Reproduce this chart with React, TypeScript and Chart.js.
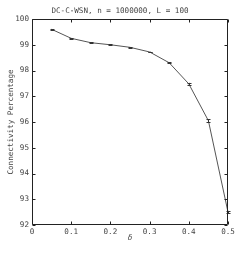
import React, { useEffect, useRef } from "react";
import { Chart, registerables } from "chart.js";

Chart.register(...registerables);

const deltas = [0.05, 0.1, 0.15, 0.2, 0.25, 0.3, 0.35, 0.4, 0.45, 0.5];
const connectivity = [99.6, 99.25, 99.08, 99.0, 98.9, 98.72, 98.3, 97.48, 96.05, 92.5];
const errors = [0.01, 0.01, 0.01, 0.01, 0.01, 0.01, 0.02, 0.04, 0.05, 0.05];
const xTicks = [0, 0.1, 0.2, 0.3, 0.4, 0.5];
const yTicks = [92, 93, 94, 95, 96, 97, 98, 99, 100];
const titleText = "DC-C-WSN, n = 1000000, L = 100";
const xLabel = "δ";
const yLabel = "Connectivity Percentage";

const FONT = "'DejaVu Sans Mono', monospace";
const TEXT = "#444";
const AXIS = "#222";

const framePlugin = {
  id: "frame",
  afterDraw(chart: any) {
    const { ctx, chartArea: a, scales } = chart;
    const xs = scales.x;
    const ys = scales.y;
    ctx.save();
    ctx.lineWidth = 1;
    // error bars
    ctx.strokeStyle = "#333";
    deltas.forEach((d, i) => {
      const px = Math.round(xs.getPixelForValue(d)) + 0.5;
      const y1 = ys.getPixelForValue(connectivity[i] - errors[i]);
      const y2 = ys.getPixelForValue(connectivity[i] + errors[i]);
      ctx.beginPath();
      ctx.moveTo(px, y1);
      ctx.lineTo(px, y2);
      ctx.moveTo(px - 2, Math.round(y1) + 0.5);
      ctx.lineTo(px + 2, Math.round(y1) + 0.5);
      ctx.moveTo(px - 2, Math.round(y2) + 0.5);
      ctx.lineTo(px + 2, Math.round(y2) + 0.5);
      ctx.stroke();
    });
    // box
    ctx.strokeStyle = AXIS;
    const L = Math.round(a.left) + 0.5;
    const R = Math.round(a.right) - 0.5;
    const T = Math.round(a.top) + 0.5;
    const B = Math.round(a.bottom) - 0.5;
    ctx.beginPath();
    ctx.moveTo(L, T);
    ctx.lineTo(R, T);
    ctx.lineTo(R, B);
    ctx.lineTo(L, B);
    ctx.closePath();
    xTicks.forEach((v) => {
      const px = Math.round(xs.getPixelForValue(v)) + 0.5;
      ctx.moveTo(px, B);
      ctx.lineTo(px, B - 3);
      ctx.moveTo(px, T);
      ctx.lineTo(px, T + 3);
    });
    yTicks.forEach((v) => {
      const py = Math.round(ys.getPixelForValue(v)) + 0.5;
      ctx.moveTo(L, py);
      ctx.lineTo(L + 3, py);
      ctx.moveTo(R, py);
      ctx.lineTo(R - 3, py);
    });
    ctx.stroke();

    // texts
    ctx.fillStyle = TEXT;
    ctx.textAlign = "center";
    ctx.textBaseline = "middle";
    ctx.font = `7.6px ${FONT}`;
    ctx.fillText(titleText, 120, 11);
    ctx.font = `italic 7.6px ${FONT}`;
    ctx.fillText(xLabel, (a.left + a.right) / 2, 238.5);
    ctx.font = `7.6px ${FONT}`;
    ctx.translate(11.5, (a.top + a.bottom) / 2);
    ctx.rotate(-Math.PI / 2);
    ctx.fillText(yLabel, 0, 0);
    ctx.restore();
  },
};

export default function App() {
  const ref = useRef<HTMLCanvasElement | null>(null);
  useEffect(() => {
    if (!ref.current) return;
    const chart = new Chart(ref.current, {
      type: "line",
      data: {
        datasets: [
          {
            data: deltas.map((d, i) => ({ x: d, y: connectivity[i] })),
            borderColor: "#555",
            borderWidth: 1,
            pointRadius: 0,
            tension: 0,
            fill: false,
          },
        ],
      },
      options: {
        animation: false,
        responsive: false,
        devicePixelRatio: 1,
        layout: { padding: { left: 0, right: 23, top: 19, bottom: 0 } },
        plugins: { legend: { display: false }, tooltip: { enabled: false }, title: { display: false } },
        scales: {
          x: {
            type: "linear",
            min: 0,
            max: 0.5,
            afterBuildTicks: (s: any) => {
              s.ticks = xTicks.map((v) => ({ value: v }));
            },
            afterFit: (s: any) => {
              s.height = 29;
            },
            grid: { display: false, drawTicks: false, tickLength: 0 },
            border: { display: false },
            ticks: {
              color: TEXT,
              font: { family: FONT, size: 7.6 },
              padding: 2,
              maxRotation: 0,
              autoSkip: false,
              callback: (v: any) => String(Math.round(Number(v) * 10) / 10),
            },
          },
          y: {
            type: "linear",
            min: 92,
            max: 100,
            afterBuildTicks: (s: any) => {
              s.ticks = yTicks.map((v) => ({ value: v }));
            },
            afterFit: (s: any) => {
              s.width = 32;
            },
            grid: { display: false, drawTicks: false, tickLength: 0 },
            border: { display: false },
            ticks: {
              color: TEXT,
              font: { family: FONT, size: 7.6 },
              padding: 3,
              autoSkip: false,
              callback: (v: any) => String(v),
            },
          },
        },
      },
      plugins: [framePlugin],
    });
    return () => chart.destroy();
  }, []);
  return (
    <div style={{ position: "absolute", left: 0, top: 0, width: 251, height: 254, background: "#fff" }}>
      <canvas ref={ref} width={251} height={254} style={{ display: "block", width: 251, height: 254 }} />
    </div>
  );
}
